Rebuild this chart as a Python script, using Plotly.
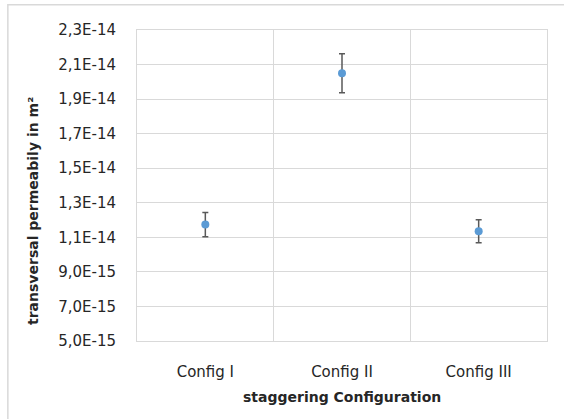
import plotly.graph_objects as go

categories = ["Config I", "Config II", "Config III"]
permeability = [1.174e-14, 2.050e-14, 1.135e-14]
error = [0.070e-14, 0.113e-14, 0.067e-14]

y_tick_values = [5e-15, 7e-15, 9e-15, 1.1e-14, 1.3e-14, 1.5e-14, 1.7e-14, 1.9e-14, 2.1e-14, 2.3e-14]
y_tick_labels = ["5,0E-15", "7,0E-15", "9,0E-15", "1,1E-14", "1,3E-14", "1,5E-14",
                 "1,7E-14", "1,9E-14", "2,1E-14", "2,3E-14"]

x_title = "staggering Configuration"
y_title = "transversal permeabily in m²"

font_family = "DejaVu Sans"
text_color = "#262626"
grid_color = "#D9D9D9"

fig = go.Figure()
fig.add_trace(go.Scatter(
    x=categories,
    y=permeability,
    mode="markers",
    marker=dict(color="#5B9BD5", size=8),
    error_y=dict(type="data", array=error, visible=True, color="#595959",
                 thickness=1.5, width=3),
    showlegend=False,
))

fig.update_layout(
    width=564, height=419,
    margin=dict(l=137, r=17, t=30, b=78),
    paper_bgcolor="white",
    plot_bgcolor="white",
    font=dict(family=font_family, size=15, color=text_color),
    xaxis=dict(
        type="category",
        tickson="boundaries",
        showgrid=True, gridcolor=grid_color, gridwidth=1,
        showline=True, linecolor=grid_color, linewidth=1, mirror=True,
        ticks="", ticklabelstandoff=17,
        tickfont=dict(family=font_family, size=15, color=text_color),
        range=[-0.5, 2.5],
    ),
    yaxis=dict(
        range=[5e-15, 2.3e-14],
        tickvals=y_tick_values,
        ticktext=y_tick_labels,
        showgrid=True, gridcolor=grid_color, gridwidth=1,
        showline=True, linecolor=grid_color, linewidth=1, mirror=True,
        ticks="", ticklabelstandoff=17,
        zeroline=False,
        tickfont=dict(family=font_family, size=15, color=text_color),
    ),
    annotations=[
        dict(text="<b>" + x_title + "</b>", xref="paper", yref="paper",
             x=0.5, y=-0.18, xanchor="center", yanchor="middle", showarrow=False,
             font=dict(family=font_family, size=14, color=text_color)),
        dict(text="<b>" + y_title + "</b>", xref="paper", yref="paper",
             x=-0.2537, y=0.418, xanchor="center", yanchor="middle", showarrow=False,
             textangle=-90,
             font=dict(family=font_family, size=14, color=text_color)),
    ],
    shapes=[
        dict(type="rect", xref="paper", yref="paper",
             x0=-0.315, y0=-0.3, x1=1.06, y1=1.081,
             line=dict(color=grid_color, width=1.5), fillcolor="rgba(0,0,0,0)",
             layer="below"),
    ],
)

fig.write_html("out.html")
